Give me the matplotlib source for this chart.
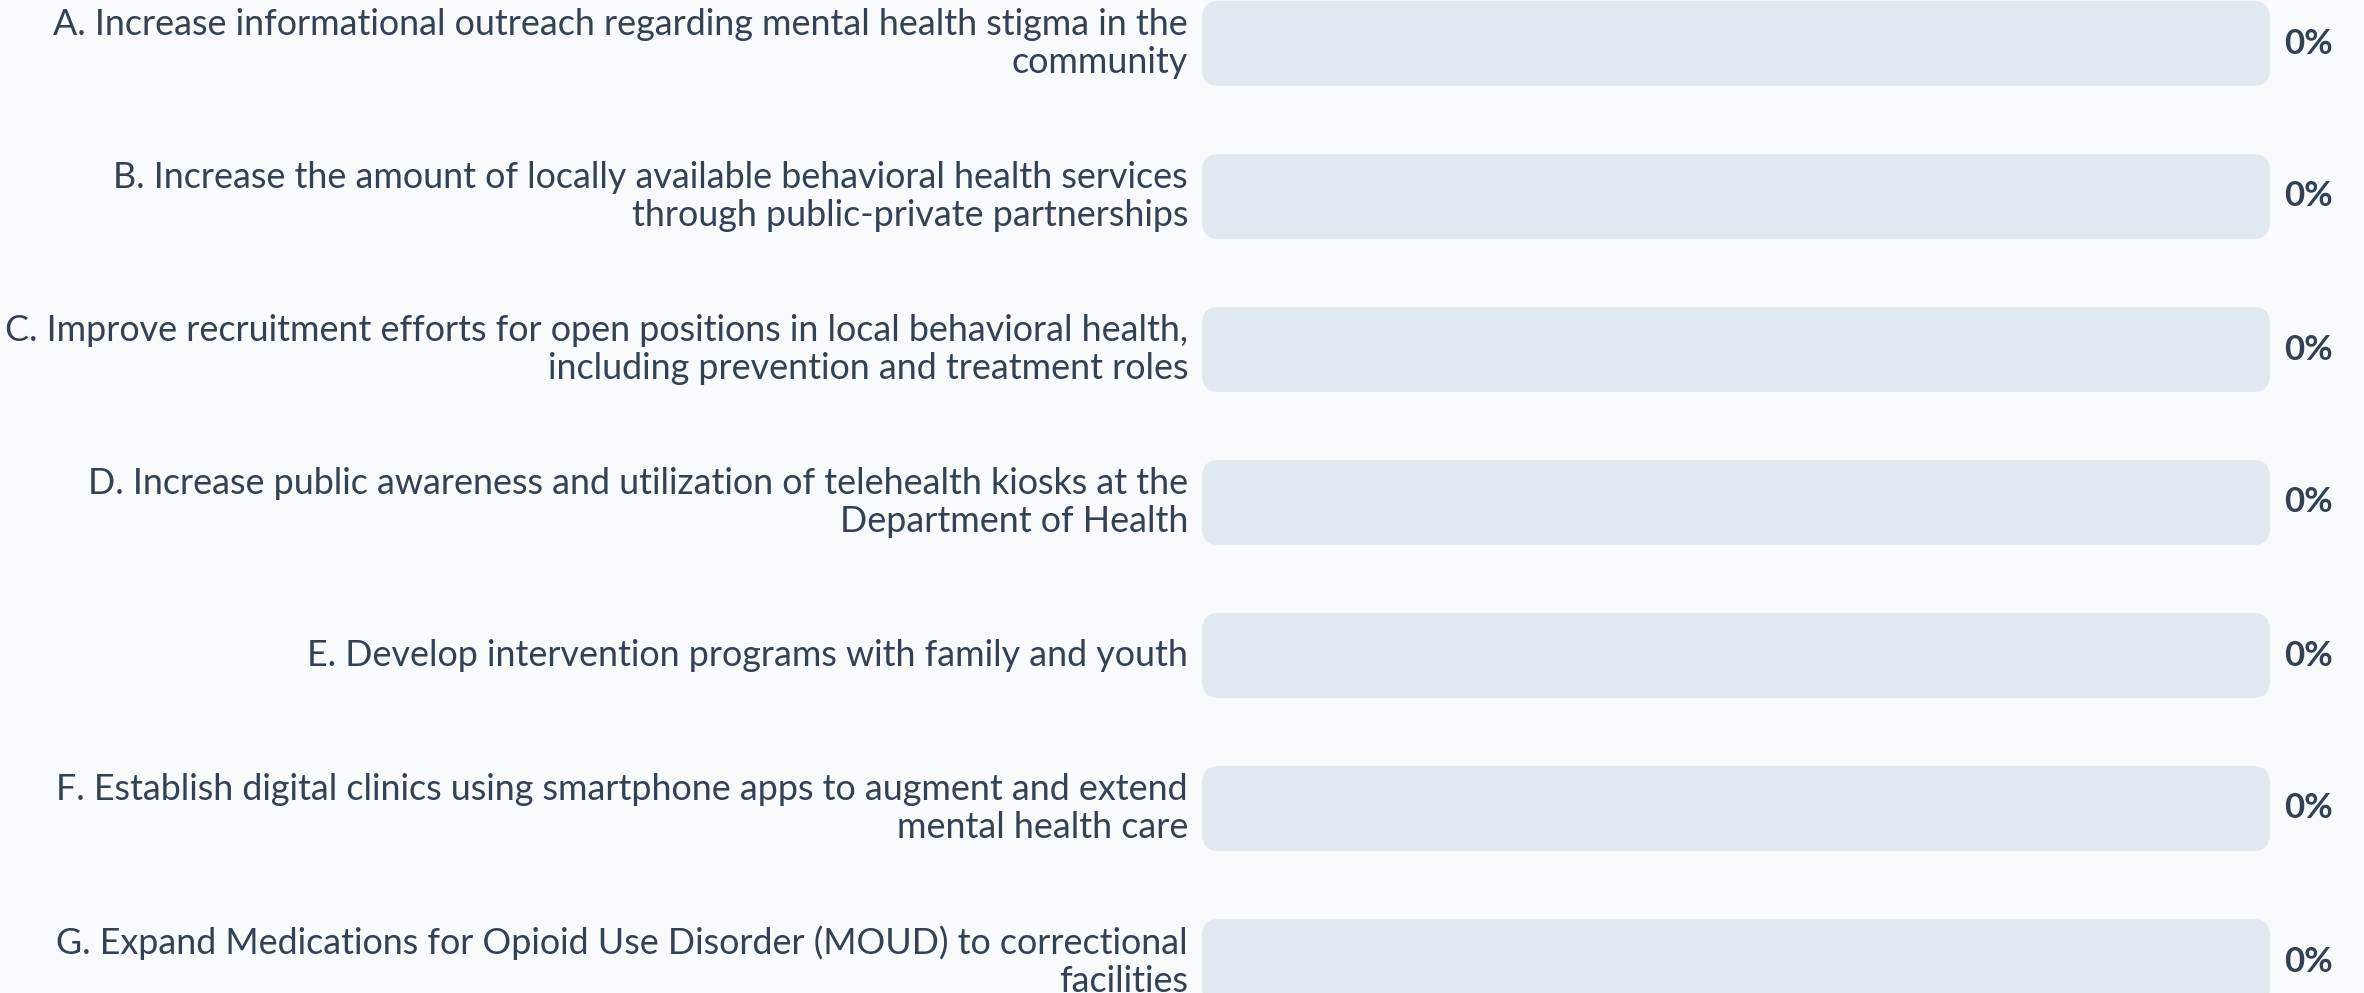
import matplotlib
matplotlib.use("Agg")
import matplotlib.pyplot as plt
from matplotlib.patches import FancyBboxPatch

# Datos del gráfico
labels = [
    "A. Increase informational outreach regarding mental health stigma in the\ncommunity",
    "B. Increase the amount of locally available behavioral health services\nthrough public-private partnerships",
    "C. Improve recruitment efforts for open positions in local behavioral health,\nincluding prevention and treatment roles",
    "D. Increase public awareness and utilization of telehealth kiosks at the\nDepartment of Health",
    "E. Develop intervention programs with family and youth",
    "F. Establish digital clinics using smartphone apps to augment and extend\nmental health care",
    "G. Expand Medications for Opioid Use Disorder (MOUD) to correctional\nfacilities",
]
values = [0, 0, 0, 0, 0, 0, 0]
track_max = 100

BG = "#F8FAFC"
TRACK = "#E2E8F0"
FILL = "#3B82F6"
TEXT = "#334155"

plt.rcParams["font.family"] = ["Lato", "DejaVu Sans"]

W, H, DPI = 2364, 993, 100
fig = plt.figure(figsize=(W / DPI, H / DPI), dpi=DPI, facecolor=BG)
ax = fig.add_axes([0, 0, 1, 1])
ax.set_facecolor(BG)

# escalas: 100 unidades = 1068 px, 1 fila = 153 px
px_x = 1068 / track_max
ax.set_xlim(-1202 / px_x, (W - 1202) / px_x)
ax.set_ylim(6 + (H - 961.5) / 153, -43.5 / 153)
ax.axis("off")

bar_h = 85 / 153
aspect = (1 / 153) / (1 / px_x)

for i, (lab, v) in enumerate(zip(labels, values)):
    track = FancyBboxPatch((0, i - bar_h / 2), track_max, bar_h,
                           boxstyle="round,pad=0,rounding_size=1.6",
                           mutation_aspect=aspect, fc=TRACK, ec="none")
    ax.add_patch(track)
    if v > 0:
        ax.barh(i, v, height=bar_h, color=FILL)
    ax.text(-1.3, i, lab, ha="right", va="center", fontsize=25.8,
            color=TEXT, linespacing=1.2)
    ax.text(track_max + 1.3, i, f"{v}%", ha="left", va="center",
            fontsize=25, fontweight="bold", color=TEXT)

fig.savefig("out.png", dpi=DPI, facecolor=BG)
